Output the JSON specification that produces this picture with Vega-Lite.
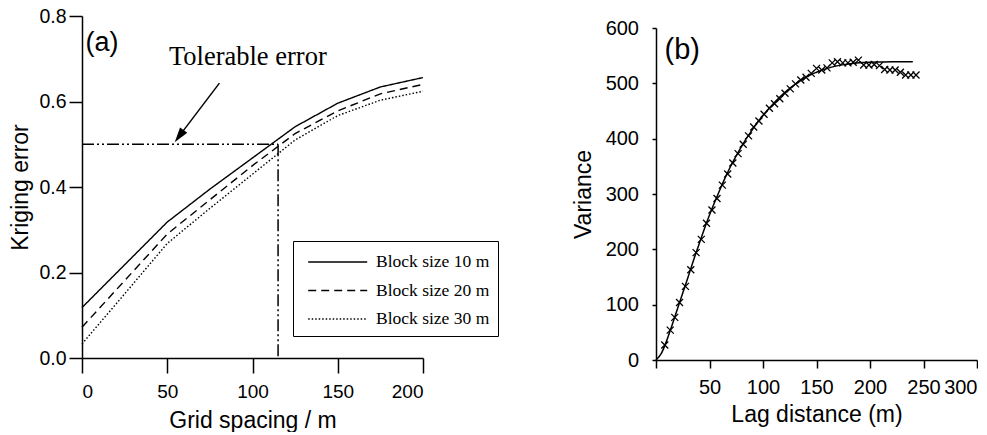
{
  "$schema": "https://vega.github.io/schema/vega-lite/v6.json",
  "padding": {"left": 9, "top": 6, "right": 0, "bottom": 0},
  "spacing": 146,
  "config": {
    "view": {"stroke": null},
    "font": "Liberation Sans",
    "axis": {
      "grid": false,
      "labelFont": "Liberation Sans",
      "labelColor": "black",
      "titleFont": "Liberation Sans",
      "titleFontWeight": "normal",
      "titleColor": "black",
      "titleFontSize": 23,
      "domainColor": "black",
      "tickColor": "black",
      "domainWidth": 1.5,
      "tickWidth": 1.5
    }
  },
  "datasets": {
    "curvesA": [
      {"x": 0, "y": 0.118, "s": "Block size 10 m"},
      {"x": 25, "y": 0.218, "s": "Block size 10 m"},
      {"x": 50, "y": 0.318, "s": "Block size 10 m"},
      {"x": 75, "y": 0.395, "s": "Block size 10 m"},
      {"x": 100, "y": 0.468, "s": "Block size 10 m"},
      {"x": 125, "y": 0.541, "s": "Block size 10 m"},
      {"x": 150, "y": 0.596, "s": "Block size 10 m"},
      {"x": 175, "y": 0.634, "s": "Block size 10 m"},
      {"x": 200, "y": 0.656, "s": "Block size 10 m"},
      {"x": 0, "y": 0.072, "s": "Block size 20 m"},
      {"x": 25, "y": 0.181, "s": "Block size 20 m"},
      {"x": 50, "y": 0.29, "s": "Block size 20 m"},
      {"x": 75, "y": 0.37, "s": "Block size 20 m"},
      {"x": 100, "y": 0.45, "s": "Block size 20 m"},
      {"x": 125, "y": 0.525, "s": "Block size 20 m"},
      {"x": 150, "y": 0.578, "s": "Block size 20 m"},
      {"x": 175, "y": 0.618, "s": "Block size 20 m"},
      {"x": 200, "y": 0.64, "s": "Block size 20 m"},
      {"x": 0, "y": 0.033, "s": "Block size 30 m"},
      {"x": 25, "y": 0.15, "s": "Block size 30 m"},
      {"x": 50, "y": 0.268, "s": "Block size 30 m"},
      {"x": 75, "y": 0.35, "s": "Block size 30 m"},
      {"x": 100, "y": 0.43, "s": "Block size 30 m"},
      {"x": 125, "y": 0.51, "s": "Block size 30 m"},
      {"x": 150, "y": 0.567, "s": "Block size 30 m"},
      {"x": 175, "y": 0.603, "s": "Block size 30 m"},
      {"x": 200, "y": 0.624, "s": "Block size 30 m"}
    ],
    "refLines": [
      {"x": 0, "y": 0.5, "x2": 115, "y2": 0.5},
      {"x": 115, "y": 0.5, "x2": 115, "y2": 0}
    ],
    "arrowLine": [
      {"x": 80.6, "y": 0.643, "x2": 57, "y2": 0.519}
    ],
    "arrowHead": [
      {"x": 57, "y": 0.519}
    ],
    "textA": [
      {"x": 2, "y": 0.736, "t": "(a)", "kind": "panel"},
      {"x": 51, "y": 0.685, "t": "Tolerable error", "kind": "note"}
    ],
    "pointsB": [
      {"lag": 8.2, "v": 27}, {"lag": 13.3, "v": 54}, {"lag": 17.5, "v": 77}, {"lag": 22, "v": 104},
      {"lag": 27.5, "v": 133}, {"lag": 32.5, "v": 163}, {"lag": 37.5, "v": 194}, {"lag": 42.3, "v": 218},
      {"lag": 47.2, "v": 247}, {"lag": 52.3, "v": 271}, {"lag": 57, "v": 292}, {"lag": 62, "v": 316},
      {"lag": 67, "v": 336}, {"lag": 71.8, "v": 356}, {"lag": 76.7, "v": 373}, {"lag": 81.5, "v": 390},
      {"lag": 86.5, "v": 405}, {"lag": 91.3, "v": 421}, {"lag": 96.2, "v": 432}, {"lag": 101, "v": 444},
      {"lag": 106, "v": 455}, {"lag": 110.8, "v": 463}, {"lag": 115.7, "v": 472}, {"lag": 120.6, "v": 482},
      {"lag": 125.5, "v": 490}, {"lag": 130.4, "v": 499}, {"lag": 135.3, "v": 506}, {"lag": 140.2, "v": 511},
      {"lag": 145.1, "v": 518}, {"lag": 150, "v": 527}, {"lag": 154.9, "v": 524}, {"lag": 159.8, "v": 528},
      {"lag": 164.7, "v": 537}, {"lag": 169.6, "v": 539}, {"lag": 174.5, "v": 537}, {"lag": 179.4, "v": 537},
      {"lag": 184.3, "v": 538}, {"lag": 189.2, "v": 542}, {"lag": 194.1, "v": 533}, {"lag": 199, "v": 533},
      {"lag": 203.9, "v": 534}, {"lag": 208.8, "v": 532}, {"lag": 213.7, "v": 525}, {"lag": 218.6, "v": 524},
      {"lag": 223.5, "v": 524}, {"lag": 228.4, "v": 520}, {"lag": 233.3, "v": 515}, {"lag": 238.2, "v": 515},
      {"lag": 243, "v": 515}
    ],
    "curveB": [
      {"lag": 0, "v": 0}, {"lag": 5, "v": 12}, {"lag": 10, "v": 35}, {"lag": 15, "v": 63},
      {"lag": 20, "v": 92}, {"lag": 25, "v": 121}, {"lag": 30, "v": 150}, {"lag": 35, "v": 180},
      {"lag": 40, "v": 208}, {"lag": 45, "v": 236}, {"lag": 50, "v": 262}, {"lag": 55, "v": 286},
      {"lag": 60, "v": 309}, {"lag": 65, "v": 331}, {"lag": 70, "v": 351}, {"lag": 75, "v": 369},
      {"lag": 80, "v": 386}, {"lag": 85, "v": 402}, {"lag": 90, "v": 416}, {"lag": 95, "v": 430},
      {"lag": 100, "v": 442}, {"lag": 105, "v": 453}, {"lag": 110, "v": 464}, {"lag": 115, "v": 474},
      {"lag": 120, "v": 483}, {"lag": 125, "v": 491}, {"lag": 130, "v": 498}, {"lag": 135, "v": 505},
      {"lag": 140, "v": 511}, {"lag": 145, "v": 516}, {"lag": 150, "v": 520}, {"lag": 160, "v": 527},
      {"lag": 170, "v": 532}, {"lag": 180, "v": 535}, {"lag": 190, "v": 537}, {"lag": 200, "v": 538},
      {"lag": 210, "v": 538.5}, {"lag": 220, "v": 539}, {"lag": 230, "v": 539}, {"lag": 240, "v": 539}
    ],
    "textB": [
      {"lag": 8, "v": 560, "t": "(b)"}
    ]
  },
  "hconcat": [
    {
      "width": 341,
      "height": 342,
      "layer": [
        {
          "data": {"name": "curvesA"},
          "mark": {"type": "line", "color": "black", "strokeWidth": 1.4},
          "encoding": {
            "x": {"field": "x", "type": "quantitative", "title": "Grid spacing / m",
                  "scale": {"domain": [0, 200], "nice": false, "zero": false},
                  "axis": {"values": [0, 50, 100, 150, 200], "format": "d", "labelFontSize": 19, "tickSize": 15, "labelPadding": 9, "titlePadding": 8}},
            "y": {"field": "y", "type": "quantitative", "title": "Kriging error",
                  "scale": {"domain": [0, 0.8], "nice": false},
                  "axis": {"values": [0, 0.2, 0.4, 0.6, 0.8], "format": ".1f", "labelFontSize": 19.5, "tickSize": 13, "labelPadding": 3, "titlePadding": 6}},
            "strokeDash": {"field": "s", "type": "nominal",
                  "scale": {"domain": ["Block size 10 m", "Block size 20 m", "Block size 30 m"], "range": [[1, 0], [8, 5], [1.5, 2]]},
                  "legend": {"orient": "none", "legendX": 211, "legendY": 225, "title": null,
                             "strokeColor": "black", "padding": 8, "rowPadding": 6.5,
                             "symbolType": "M-1,0L4,0", "symbolSize": 557, "symbolOffset": 6, "symbolStrokeWidth": 1.5, "symbolStrokeColor": "black",
                             "labelFont": "Liberation Serif", "labelFontSize": 17.5, "labelColor": "black", "labelOffset": 43, "labelLimit": 300}}
          }
        },
        {
          "data": {"name": "refLines"},
          "mark": {"type": "rule", "color": "black", "strokeWidth": 1.5, "strokeDash": [12, 3, 2, 3, 2, 3]},
          "encoding": {
            "x": {"field": "x", "type": "quantitative"},
            "y": {"field": "y", "type": "quantitative"},
            "x2": {"field": "x2"},
            "y2": {"field": "y2"}
          }
        },
        {
          "data": {"name": "arrowLine"},
          "mark": {"type": "rule", "color": "black", "strokeWidth": 1.5},
          "encoding": {
            "x": {"field": "x", "type": "quantitative"},
            "y": {"field": "y", "type": "quantitative"},
            "x2": {"field": "x2"},
            "y2": {"field": "y2"}
          }
        },
        {
          "data": {"name": "arrowHead"},
          "mark": {"type": "point", "shape": "M0,-1L-0.6,1L0.6,1Z", "filled": true, "color": "black", "opacity": 1, "size": 225, "angle": 216.7},
          "encoding": {
            "x": {"field": "x", "type": "quantitative"},
            "y": {"field": "y", "type": "quantitative"}
          }
        },
        {
          "data": {"name": "textA"},
          "transform": [{"filter": "datum.kind == 'panel'"}],
          "mark": {"type": "text", "align": "left", "baseline": "middle", "font": "Liberation Sans", "fontSize": 27, "color": "black"},
          "encoding": {
            "x": {"field": "x", "type": "quantitative"},
            "y": {"field": "y", "type": "quantitative"},
            "text": {"field": "t"}
          }
        },
        {
          "data": {"name": "textA"},
          "transform": [{"filter": "datum.kind == 'note'"}],
          "mark": {"type": "text", "align": "left", "baseline": "alphabetic", "font": "Liberation Serif", "fontSize": 26.5, "color": "black"},
          "encoding": {
            "x": {"field": "x", "type": "quantitative"},
            "y": {"field": "y", "type": "quantitative"},
            "text": {"field": "t"}
          }
        }
      ]
    },
    {
      "width": 321,
      "height": 344,
      "layer": [
        {
          "data": {"name": "pointsB"},
          "mark": {"type": "point", "shape": "M-1,-1L1,1M1,-1L-1,1", "filled": false, "color": "black", "opacity": 1, "size": 49, "strokeWidth": 1.3},
          "encoding": {
            "x": {"field": "lag", "type": "quantitative", "title": "Lag distance (m)",
                  "scale": {"domain": [0, 300], "nice": false},
                  "axis": {"values": [0, 50, 100, 150, 200, 250, 300], "labelExpr": "datum.value == 0 ? '' : datum.label", "labelFlush": true, "labelFontSize": 20, "tickSize": 8, "labelPadding": 9, "titlePadding": 6}},
            "y": {"field": "v", "type": "quantitative", "title": "Variance",
                  "scale": {"domain": [0, 600], "nice": false, "range": [344, 12]},
                  "axis": {"values": [0, 100, 200, 300, 400, 500, 600], "labelFontSize": 20, "tickSize": 4, "labelPadding": 13.5, "titlePadding": 10}}
          }
        },
        {
          "data": {"name": "curveB"},
          "mark": {"type": "line", "color": "black", "strokeWidth": 1.5, "interpolate": "monotone"},
          "encoding": {
            "x": {"field": "lag", "type": "quantitative"},
            "y": {"field": "v", "type": "quantitative"}
          }
        },
        {
          "data": {"name": "textB"},
          "mark": {"type": "text", "align": "left", "baseline": "middle", "font": "Liberation Sans", "fontSize": 29, "color": "black"},
          "encoding": {
            "x": {"field": "lag", "type": "quantitative"},
            "y": {"field": "v", "type": "quantitative"},
            "text": {"field": "t"}
          }
        }
      ]
    }
  ]
}
